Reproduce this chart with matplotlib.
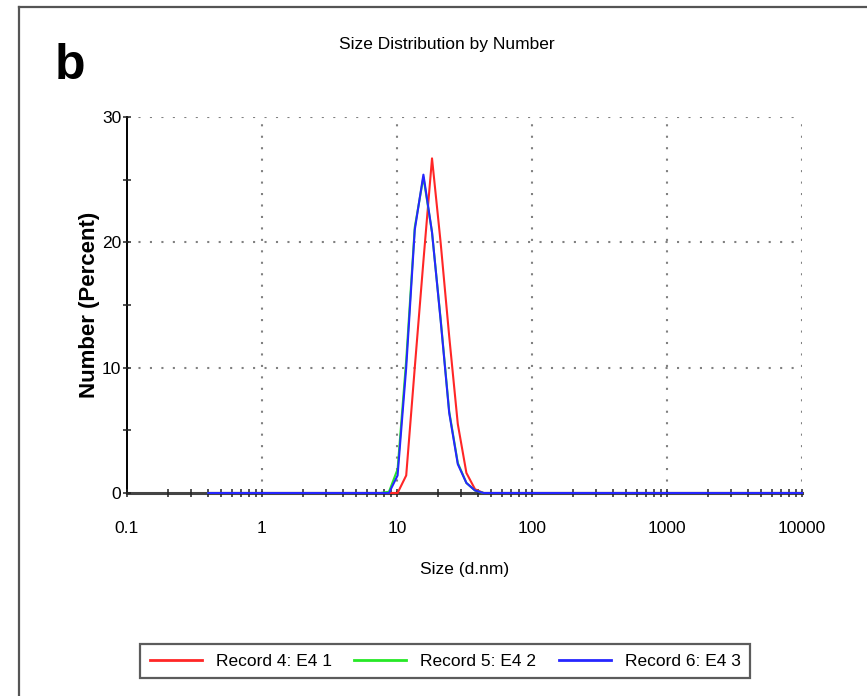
import matplotlib
matplotlib.use("Agg")
import matplotlib.pyplot as plt
from matplotlib import font_manager
from matplotlib.lines import Line2D
from matplotlib.ticker import FixedLocator, NullFormatter


def pick_font(names):
    for name in names:
        try:
            font_manager.findfont(name, fallback_to_default=False)
            return name
        except ValueError:
            continue
    return "DejaVu Sans"


NARROW = pick_font(["Liberation Sans Narrow", "Liberation Sans"])
BOLD = pick_font(["Liberation Sans", "DejaVu Sans"])
# the original text is condensed; with a regular-width font use a compromise size
FS = 14 if NARROW == "Liberation Sans Narrow" else 12.5

# Zetasizer size classes (d.nm)
sizes = [0.4, 0.4632, 0.5365, 0.6213, 0.7195, 0.8332, 0.9649, 1.117, 1.294, 1.499,
         1.736, 2.010, 2.328, 2.696, 3.122, 3.615, 4.187, 4.849, 5.615, 6.503,
         7.531, 8.721, 10.10, 11.70, 13.54, 15.69, 18.17, 21.04, 24.36, 28.21,
         32.67, 37.84, 43.82, 50.75, 58.77, 68.06, 78.82, 91.28, 105.7, 122.4,
         141.8, 164.2, 190.1, 220.2, 255.0, 295.3, 342.0, 396.1, 458.7, 531.2,
         615.1, 712.4, 825.0, 955.4, 1106, 1281, 1484, 1718, 1990, 2305,
         2669, 3091, 3580, 4145, 4801, 5560, 6439, 7456, 8635, 10000]

record4 = [0, 0, 0, 0, 0, 0, 0, 0, 0, 0,
           0, 0, 0, 0, 0, 0, 0, 0, 0, 0,
           0, 0, 0.0, 1.4, 10.0, 18.5, 26.7, 20.0, 12.5, 5.5,
           1.6, 0.3, 0, 0, 0, 0, 0, 0, 0, 0,
           0, 0, 0, 0, 0, 0, 0, 0, 0, 0,
           0, 0, 0, 0, 0, 0, 0, 0, 0, 0,
           0, 0, 0, 0, 0, 0, 0, 0, 0, 0]

record5 = [0, 0, 0, 0, 0, 0, 0, 0, 0, 0,
           0, 0, 0, 0, 0, 0, 0, 0, 0, 0,
           0, 0.1, 1.9, 10.6, 21.2, 25.2, 20.8, 13.9, 6.5, 2.4,
           0.8, 0.2, 0, 0, 0, 0, 0, 0, 0, 0,
           0, 0, 0, 0, 0, 0, 0, 0, 0, 0,
           0, 0, 0, 0, 0, 0, 0, 0, 0, 0,
           0, 0, 0, 0, 0, 0, 0, 0, 0, 0]

record6 = [0, 0, 0, 0, 0, 0, 0, 0, 0, 0,
           0, 0, 0, 0, 0, 0, 0, 0, 0, 0,
           0, 0.0, 1.4, 10.0, 21.0, 25.4, 20.8, 13.8, 6.4, 2.3,
           0.8, 0.2, 0, 0, 0, 0, 0, 0, 0, 0,
           0, 0, 0, 0, 0, 0, 0, 0, 0, 0,
           0, 0, 0, 0, 0, 0, 0, 0, 0, 0,
           0, 0, 0, 0, 0, 0, 0, 0, 0, 0]

labels = ["Record 4: E4 1", "Record 5: E4 2", "Record 6: E4 3"]
colors = ["#ff2626", "#26e826", "#2626ff"]

x_major = [0.1, 1, 10, 100, 1000, 10000]
x_major_labels = ["0.1", "1", "10", "100", "1000", "10000"]
x_grid = [1, 10, 100, 1000, 10000]
y_major = [0, 10, 20, 30]
y_grid = [10, 20, 30]
y_minor = [5, 15, 25]

W, H = 867, 696
fig = plt.figure(figsize=(W / 100, H / 100), dpi=100)
ax = fig.add_axes([127 / W, 1 - 493 / H, (802 - 127) / W, (493 - 117) / H])

for vals, lab, c in zip([record4, record5, record6], labels, colors):
    ax.plot(sizes, vals, color=c, lw=1.5, label=lab, zorder=3, clip_on=False)

ax.set_xscale("log")
ax.set_xlim(0.1, 10000)
ax.set_ylim(0, 30)

ax.xaxis.set_major_locator(FixedLocator(x_major))
ax.set_xticklabels(x_major_labels)
minors = [m * d for d in [0.1, 1, 10, 100, 1000] for m in range(2, 10)]
ax.xaxis.set_minor_locator(FixedLocator(minors))
ax.xaxis.set_minor_formatter(NullFormatter())
ax.set_yticks(y_major)
ax.yaxis.set_minor_locator(FixedLocator(y_minor))

ax.tick_params(which="both", direction="inout", length=6, width=1.1, color="#222222")
ax.tick_params(axis="both", labelsize=FS)
ax.tick_params(axis="x", pad=17)
ax.tick_params(axis="y", pad=1)
for t in ax.get_xticklabels() + ax.get_yticklabels():
    t.set_family(NARROW)

for s in ["top", "right"]:
    ax.spines[s].set_visible(False)
ax.spines["left"].set_linewidth(1.4)
ax.spines["bottom"].set_linewidth(2.2)
ax.spines["bottom"].set_color("#444444")

# dotted grid, drawn by hand so it skips the axis lines themselves
grid_style = dict(color="#808080", lw=1.5, ls=(0, (1, 4.5)), zorder=1)
for gx in x_grid:
    ax.axvline(gx, **grid_style)
for gy in y_grid:
    ax.axhline(gy, **grid_style)
ax.set_axisbelow(False)

ax.set_xlabel("Size (d.nm)", family=NARROW, fontsize=FS)
ax.xaxis.set_label_coords(0.5007, -0.183)
ax.set_ylabel("Number (Percent)", family=BOLD, fontweight="bold", fontsize=16)
ax.yaxis.set_label_coords(-0.040, 0.5)
fig.text(447 / W, 1 - 45 / H, "Size Distribution by Number", family=NARROW,
         fontsize=FS, ha="center", va="center")
fig.text(55 / W, 1 - 79 / H, "b", family=BOLD, fontweight="bold", fontsize=36,
         ha="left", va="baseline")

# outer panel frame (only its left and top edges fall inside the image)
fig.add_artist(Line2D([19 / W, 19 / W], [0, 1 - 7 / H], color="#555555", lw=1.6))
fig.add_artist(Line2D([19 / W, 1], [1 - 7 / H, 1 - 7 / H], color="#555555", lw=1.6))

leg = ax.legend(loc="center", bbox_to_anchor=(445 / W, 1 - 661 / H),
                bbox_transform=fig.transFigure, ncol=3, frameon=True, fancybox=False,
                prop={"family": NARROW, "size": FS},
                handlelength=3.0, handletextpad=0.8, columnspacing=1.3,
                borderpad=0.55, borderaxespad=0)
leg.get_frame().set_edgecolor("#333333")
leg.get_frame().set_linewidth(1.6)
for h in leg.get_lines():
    h.set_linewidth(2.0)

fig.savefig("out.png", dpi=100)
